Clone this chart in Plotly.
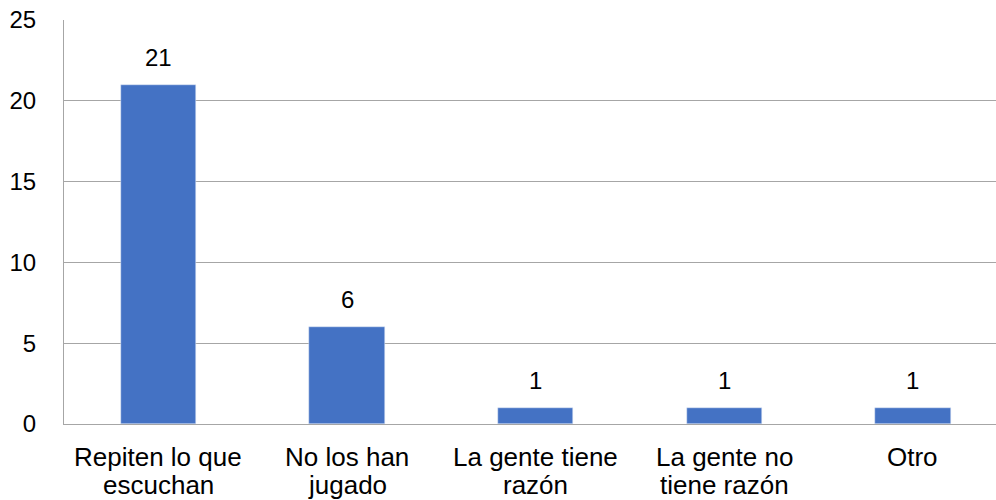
import plotly.graph_objects as go

categories = ["Repiten lo que<br>escuchan", "No los han<br>jugado", "La gente tiene<br>razón",
              "La gente no<br>tiene razón", "Otro"]
values = [21, 6, 1, 1, 1]
y_ticks = [0, 5, 10, 15, 20, 25]

FONT = "Liberation Sans, Arial"
x_pos = list(range(len(categories)))

fig = go.Figure(go.Bar(
    x=x_pos,
    y=values,
    width=0.4,
    marker_color="#4472C4",
    hoverinfo="skip",
))

# value labels above each bar
for xi, v in zip(x_pos, values):
    fig.add_annotation(x=xi, y=v, text=str(v), showarrow=False,
                       yanchor="bottom", yshift=12,
                       font=dict(family=FONT, size=24, color="#000000"))

# category labels, one annotation per line for tight line spacing
for xi, label in zip(x_pos, categories):
    for j, line in enumerate(label.split("<br>")):
        fig.add_annotation(x=xi, xref="x", y=0, yref="paper", text=line,
                           showarrow=False, yanchor="middle",
                           yshift=-33 - 28 * j,
                           font=dict(family=FONT, size=26, color="#000000"))

fig.update_layout(
    width=996, height=500,
    margin=dict(l=64, r=0, t=20, b=76),
    paper_bgcolor="white", plot_bgcolor="white",
    font=dict(family=FONT, size=24, color="#000000"),
    showlegend=False,
    bargap=0,
)
fig.update_xaxes(
    range=[-0.5, 4.44],
    tickvals=x_pos, showticklabels=False,
    showgrid=False, zeroline=False,
    showline=True, linecolor="#A6A6A6", linewidth=1,
    ticks="",
)
fig.update_yaxes(
    range=[0, 25],
    tickvals=y_ticks,
    showgrid=True, gridcolor="#A6A6A6", gridwidth=1,
    zeroline=False,
    showline=True, linecolor="#A6A6A6", linewidth=1,
    ticks="", ticklabelstandoff=22,
    tickfont=dict(size=24),
)

fig.write_html("out.html")
